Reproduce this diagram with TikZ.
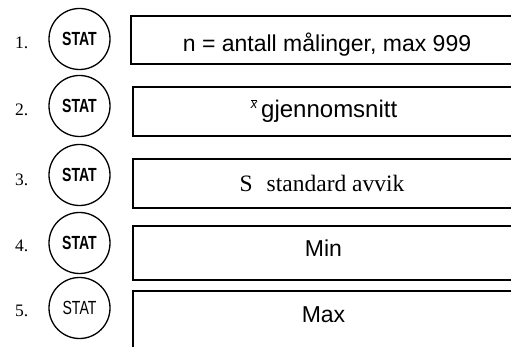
\documentclass[tikz,border=0pt]{standalone}
\usepackage{fontspec}
\setmainfont{Liberation Serif}
\setsansfont{Liberation Sans}
\newfontfamily\keyfont[FakeStretch=0.74]{Liberation Sans}
\begin{document}
\begin{tikzpicture}[x=1pt,y=-1pt,
  keycirc/.style={circle,draw,line width=1.3pt,minimum size=61pt,inner sep=0pt},
  keytext/.style={font=\keyfont\fontsize{19}{19}\selectfont\bfseries},
  keytextreg/.style={font=\keyfont\fontsize{19}{19}\selectfont},
  numlabel/.style={anchor=base west,inner sep=0pt,font=\rmfamily\fontsize{17.5}{17.5}\selectfont},
  sanslabel/.style={anchor=base,inner sep=0pt,font=\sffamily\fontsize{23}{23}\selectfont},
  seriflabel/.style={anchor=base,inner sep=0pt,font=\rmfamily\fontsize{23.5}{23.5}\selectfont},
  display/.style={draw,line width=1.5pt}]
\useasboundingbox (0,0) rectangle (511,347);
\clip (0,0) rectangle (511,347);

% step numbers
\node[numlabel] (n1) at (15,49) {1.};
\node[numlabel] (n2) at (15,116) {2.};
\node[numlabel] (n3) at (15,186) {3.};
\node[numlabel] (n4) at (15,252) {4.};
\node[numlabel] (n5) at (15,316) {5.};

% STAT keys
\node[keycirc] (k1) at (79.5,39) {};
\node[keycirc] (k2) at (79.5,106) {};
\node[keycirc] (k3) at (79.5,175) {};
\node[keycirc] (k4) at (79.5,243) {};
\node[keycirc] (k5) at (79.5,308) {};
\node[keytext] (t1) at (k1) {STAT};
\node[keytext] (t2) at (k2) {STAT};
\node[keytext] (t3) at (k3) {STAT};
\node[keytext] (t4) at (k4) {STAT};
\node[keytextreg] (t5) at (k5) {STAT};

% display windows (running off the right edge)
\draw[display] (131,16) rectangle (525,64);
\draw[display] (133,87) rectangle (525,136);
\draw[display] (133,159) rectangle (525,208);
\draw[display] (133,226) rectangle (525,280);
\draw[display] (133,291) rectangle (525,360);

% display texts
\node[sanslabel] (d1) at (327,52) {n = antall målinger, max 999};
\node[anchor=base,inner sep=0pt,font=\sffamily\fontsize{13}{13}\selectfont] (xbar) at (254,108.5) {$\overline{\mbox{\sffamily\itshape x}}$};
\node[sanslabel,anchor=base west,font=\sffamily\fontsize{24}{24}\selectfont] (d2) at (261,118) {gjennomsnitt};
\node[seriflabel] (d3) at (322,191.5) {S\hspace{0.6em}standard avvik};
\node[sanslabel] (d4) at (323.5,257) {Min};
\node[sanslabel] (d5) at (323.5,322.5) {Max};
\end{tikzpicture}
\end{document}
